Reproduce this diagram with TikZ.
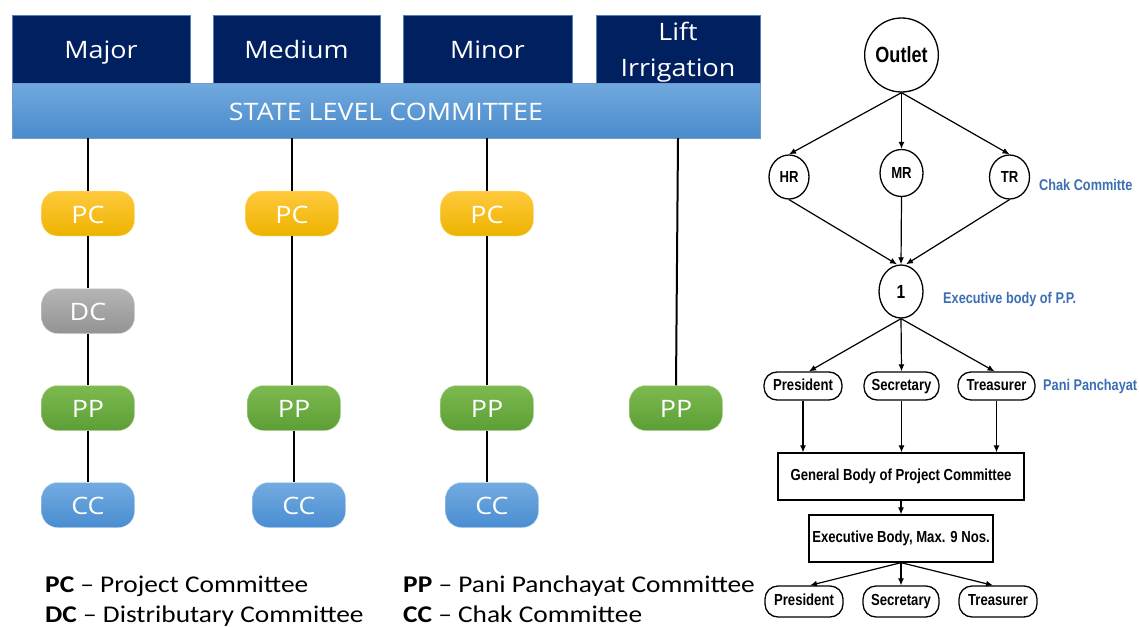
\documentclass[tikz,border=0pt]{standalone}
\usepackage{fontspec}
\usepackage{tikz}
\setmainfont{Open Sans}[FakeStretch=1.12]
\newfontfamily\legendfont{Carlito}[FakeStretch=1.14]
\newfontfamily\chartfont[FakeStretch=0.82]{Liberation Sans}
\usetikzlibrary{arrows.meta}
\usetikzlibrary{shapes.geometric}
\definecolor{mnavy}{HTML}{002060}
\definecolor{medge}{HTML}{4F81BD}
\definecolor{mbartop}{HTML}{70A9DE}
\definecolor{mbarbot}{HTML}{4A8BCB}
\definecolor{myeltop}{HTML}{FFC93C}
\definecolor{myelbot}{HTML}{EDB300}
\definecolor{mgreytop}{HTML}{B5B5B5}
\definecolor{mgreybot}{HTML}{939393}
\definecolor{mgreentop}{HTML}{7DBA50}
\definecolor{mgreenbot}{HTML}{5C9E35}
\definecolor{mbluetop}{HTML}{72ABE0}
\definecolor{mbluebot}{HTML}{4A8DD1}
\definecolor{mlabel}{HTML}{3C6EB4}

\begin{document}
\begin{tikzpicture}[x=1pt, y=-1pt,
    topbox/.style={draw=medge, fill=mnavy, text=white, inner sep=0pt,
      minimum height=68pt, text height=19pt, text depth=0pt, font=\fontsize{24}{34}\selectfont},
    pill/.style={rounded corners=16pt, inner sep=0pt, minimum width=93pt,
      minimum height=45pt, text height=19pt, text depth=0pt, text=white, font=\fontsize{24}{28}\selectfont,
      draw=white!60!#1top, top color=#1top, bottom color=#1bot},
    link/.style={line width=2pt},
    legend/.style={anchor=base west, inner sep=0pt, font=\legendfont\fontsize{24}{30}\selectfont},
    rnode/.style={draw, line width=1.3pt, inner sep=0pt, font=\chartfont\bfseries\fontsize{16}{18}\selectfont},
    rpill/.style={rnode, rounded corners=13pt, minimum height=28pt, text height=11.5pt, text depth=3.4pt},
    rbox/.style={rnode, minimum height=47pt},
    rlabel/.style={anchor=west, inner sep=0pt, text=mlabel, font=\chartfont\bfseries\fontsize{15.5}{18}\selectfont},
    arr/.style={-{Latex[length=7pt,width=6pt]}, line width=1.2pt}]
  \useasboundingbox (0, 0) rectangle (1139, 626);

  % left chart
  \node [topbox, minimum width=178pt] (major) at (101, 49) {Major};
  \node [topbox, minimum width=167pt] (medium) at (296.5, 49) {Medium};
  \node [topbox, minimum width=169pt] (minor) at (487.5, 49) {Minor};
  \node [topbox, minimum width=164pt, label={[text=white, align=center, yshift=-3pt,
    font=\fontsize{24}{35.5}\selectfont]center:Lift\\Irrigation}] (lift) at (678, 49) {};
  \node [draw=medge!80!white, top color=mbartop, bottom color=mbarbot, text=white, inner sep=0pt,
    minimum width=748pt, minimum height=55pt, text height=19pt, text depth=0pt,
    font=\fontsize{24}{28}\selectfont] (bar) at (386, 110.5) {STATE LEVEL COMMITTEE};

  \node [pill=myel] (pcA) at (88, 213.5) {PC};
  \node [pill=mgrey] (dcA) at (88, 311) {DC};
  \node [pill=mgreen] (ppA) at (88, 408) {PP};
  \node [pill=mblue] (ccA) at (88, 505) {CC};

  \node [pill=myel] (pcB) at (292, 213.5) {PC};
  \node [pill=mgreen] (ppB) at (294, 408) {PP};
  \node [pill=mblue] (ccB) at (299, 505) {CC};

  \node [pill=myel] (pcC) at (487, 213.5) {PC};
  \node [pill=mgreen] (ppC) at (487, 408) {PP};
  \node [pill=mblue] (ccC) at (492, 505) {CC};

  \node [pill=mgreen] (ppD) at (676, 408) {PP};

  \draw [link] (bar.south -| pcA.north) -- (pcA.north);
  \draw [link] (pcA.south) -- (dcA.north);
  \draw [link] (dcA.south) -- (ppA.north);
  \draw [link] (ppA.south) -- (ccA.north);

  \draw [link] (bar.south -| pcB.north) -- (pcB.north);
  \draw [link] (pcB.south) -- (pcB.south |- ppB.north);
  \draw [link] (ppB.south) -- (ppB.south |- ccB.north);

  \draw [link] (bar.south -| pcC.north) -- (pcC.north);
  \draw [link] (pcC.south) -- (pcC.south |- ppC.north);
  \draw [link] (ppC.south) -- (ppC.south |- ccC.north);

  \draw [link] ([xshift=2pt]bar.south -| ppD.north) -- (ppD.north);

  % legend
  \node [legend] (keyPC) at (45, 592.5) {\textbf{PC} – Project Committee};
  \node [legend] (keyDC) at (45, 622) {\textbf{DC} – Distributary Committee};
  \node [legend] (keyPP) at (403, 592.5) {\textbf{PP} – Pani Panchayat Committee};
  \node [legend] (keyCC) at (403, 622) {\textbf{CC} – Chak Committee};

  % right chart
  \node [rnode, ellipse, minimum width=63pt, minimum height=74pt,
    font=\chartfont\bfseries\fontsize{22}{24}\selectfont] (outlet) at (901.5, 55) {Outlet};
  \node [rnode, ellipse, minimum width=40pt, minimum height=44pt] (hr) at (789, 177) {HR};
  \node [rnode, ellipse, minimum width=43pt, minimum height=47pt] (mr) at (901.5, 173) {MR};
  \node [rnode, ellipse, minimum width=40pt, minimum height=44pt] (tr) at (1009.5, 177) {TR};
  \node [rlabel] (chak) at (1039, 185) {Chak Committe};

  \node [rnode, ellipse, minimum width=44pt, minimum height=53pt,
    font=\chartfont\bfseries\fontsize{19}{21}\selectfont] (one) at (901, 291.5) {1};
  \node [rlabel] (exbody) at (943, 299) {Executive body of P.P.};

  \node [rpill, minimum width=78pt] (presA) at (803, 386) {President};
  \node [rpill, minimum width=75pt] (secA) at (901.5, 386) {Secretary};
  \node [rpill, minimum width=77pt] (treA) at (996.5, 386) {Treasurer};
  \node [rlabel] (pani) at (1043, 386) {Pani Panchayat};

  \node [rbox, minimum width=246pt] (gbody) at (901, 476.5) {General Body of Project Committee};
  \node [rbox, minimum width=184pt] (exec) at (901, 538.5) {Executive Body, Max. 9 Nos.};

  \node [rpill, minimum width=78pt, minimum height=31pt] (presB) at (804, 601.5) {President};
  \node [rpill, minimum width=76pt, minimum height=31pt] (secB) at (901, 601.5) {Secretary};
  \node [rpill, minimum width=78pt, minimum height=31pt] (treB) at (998, 601.5) {Treasurer};

  \draw [arr] (outlet.south) -- (hr.north);
  \draw [arr] (outlet.south) -- (mr.north);
  \draw [arr] (outlet.south) -- (tr.north);
  \draw [arr] (hr.south) -- ([xshift=-4pt]one.north);
  \draw [arr] (mr.south) -- (one.north);
  \draw [arr] (tr.south) -- ([xshift=5pt]one.north);
  \draw [arr] (one.south) -- ([xshift=6pt]presA.north);
  \draw [arr] (one.south) -- (secA.north);
  \draw [arr] (one.south) -- ([xshift=-2pt]treA.north);
  \draw [arr] (presA.south) -- (presA.south |- gbody.north);
  \draw [arr] (secA.south) -- (secA.south |- gbody.north);
  \draw [arr] (treA.south) -- (treA.south |- gbody.north);
  \draw [arr] (gbody.south) -- (exec.north);
  \draw [arr] (exec.south) -- ([xshift=6pt]presB.north);
  \draw [arr] (exec.south) -- (secB.north);
  \draw [arr] (exec.south) -- ([xshift=-5pt]treB.north);
\end{tikzpicture}
\end{document}
